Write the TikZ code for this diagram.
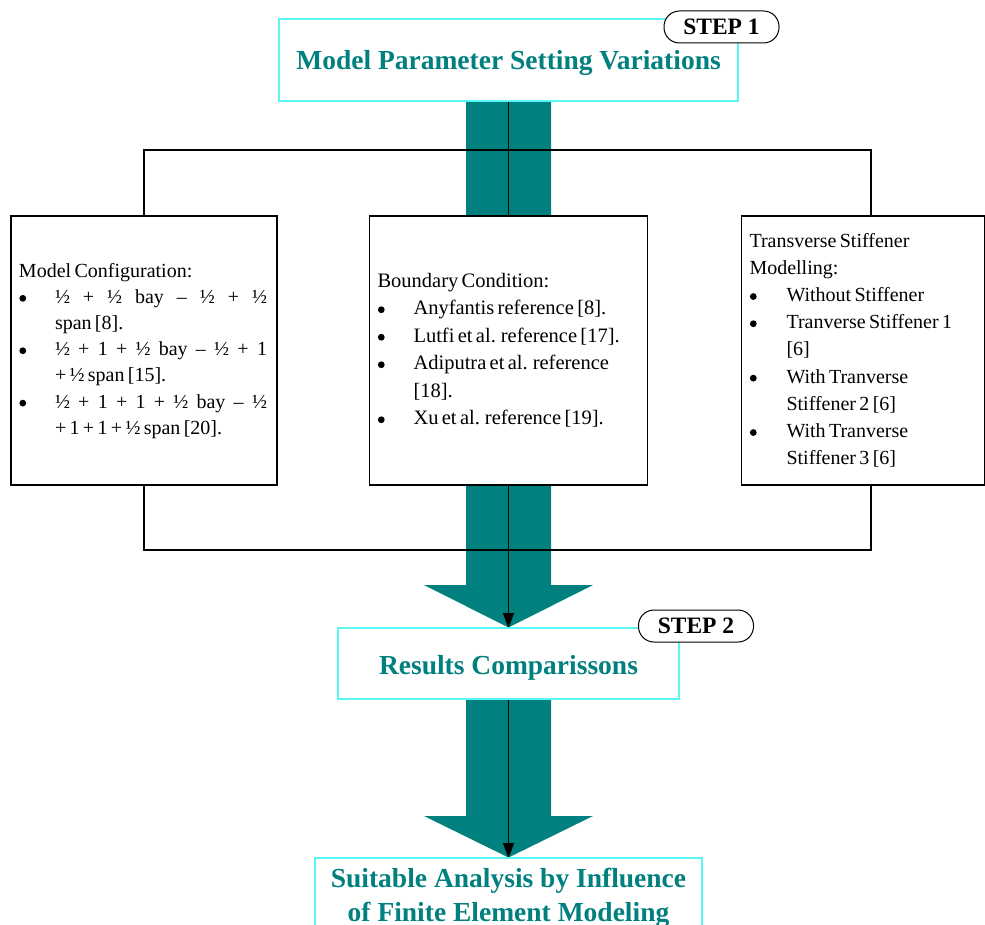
\documentclass[tikz,border=0pt]{standalone}
\usepackage{fontspec}
\setmainfont{Liberation Serif}
\usetikzlibrary{arrows.meta}
\definecolor{mteal}{RGB}{0,128,126}
\definecolor{mcyan}{RGB}{90,245,245}
\pgfdeclarelayer{background}
\pgfsetlayers{background,main}
\newcommand\bul{\tikz[x=1pt,y=1pt,baseline=-5pt]{\path (0,0); \fill[black] (3.8,0) circle (3.4);}}
\newcommand\jline[1]{\hbox to 212pt{#1}}
\tikzset{
  titlebox/.style={draw=mcyan, line width=1.4pt, fill=white, outer sep=0pt,
    text=mteal, font=\fontsize{27.5}{34}\selectfont\bfseries, align=center},
  listbox/.style={draw=black, line width=1.1pt, fill=white, outer sep=0pt,
    inner xsep=8pt, inner ysep=0pt, align=left, minimum height=269pt},
  steppill/.style={draw=black, line width=1pt, fill=white, rounded corners=15.5pt,
    minimum width=115pt, minimum height=32pt, inner sep=0pt,
    font=\fontsize{23.5}{26}\selectfont\bfseries},
  bigarrow/.style={fill=mteal, draw=none},
  thinarrow/.style={draw=black, line width=1.4pt, -{Triangle[length=15pt,width=11pt]}},
  bracket/.style={draw=black, line width=1.3pt}
}
\begin{document}
\begin{tikzpicture}[x=1pt,y=-1pt]
\useasboundingbox (0,0) rectangle (985,925);
\clip (0,0) rectangle (985,925);

% title boxes
\node[titlebox, minimum width=459pt, minimum height=82pt, text height=25pt, text depth=5.5pt] (top) at (508.5,60)
  {Model Parameter Setting Variations};
\node[titlebox, minimum width=341pt, minimum height=71pt, text height=26pt, text depth=4.8pt] (res) at (508.5,663.5)
  {Results Comparissons};
\node[titlebox, anchor=north, minimum width=387pt, inner ysep=10pt] (fin) at (508.5,858)
  {Suitable Analysis by Influence\\of Finite Element Modeling};

% list boxes
\node[listbox, minimum width=266pt, text width=250pt] (lbox) at (144,350.5)
{\fontsize{20}{26.2}\selectfont
\begin{tabular}{@{}p{36pt}@{}l@{}}
\multicolumn{2}{@{}l@{}}{Model Configuration:}\\
\bul & \jline{½\hfill+\hfill½\hfill bay\hfill–\hfill½\hfill+\hfill½}\\
 & span [8].\\
\bul & \jline{½\hfill+\hfill1\hfill+\hfill½\hfill bay\hfill–\hfill½\hfill+\hfill1}\\
 & + ½ span [15].\\
\bul & \jline{½\hfill+\hfill1\hfill+\hfill1\hfill+\hfill½\hfill bay\hfill–\hfill½}\\
 & + 1 + 1 + ½ span [20].
\end{tabular}};

\node[listbox, minimum width=278pt, text width=262pt] (mid) at (508.5,350.5)
{\fontsize{20.5}{27.5}\selectfont
\begin{tabular}{@{}p{36pt}@{}l@{}}
\multicolumn{2}{@{}l@{}}{Boundary Condition:}\\
\bul & Anyfantis reference [8].\\
\bul & Lutfi et al. reference [17].\\
\bul & Adiputra et al. reference\\
 & [18].\\
\bul & Xu et al. reference [19].
\end{tabular}};

\node[listbox, minimum width=243pt, text width=227pt] (rbox) at (863,350.5)
{\fontsize{20}{27.2}\selectfont
\begin{tabular}{@{}p{37pt}@{}l@{}}
\multicolumn{2}{@{}l@{}}{Transverse Stiffener}\\
\multicolumn{2}{@{}l@{}}{Modelling:}\\
\bul & Without Stiffener\\
\bul & Tranverse Stiffener 1\\
 & [6]\\
\bul & With Tranverse\\
 & Stiffener 2 [6]\\
\bul & With Tranverse\\
 & Stiffener 3 [6]
\end{tabular}};

% step labels
\node[steppill] (s1) at (721.5,27) {STEP 1};
\node[steppill] (s2) at (696,626) {STEP 2};

% connectors and big arrows behind
\coordinate (br) at (871,150);
\coordinate (bb) at (871,550);
\begin{pgfonlayer}{background}
  \path[bigarrow] (466,101) -- (466,585) -- (424,585) -- (508.5,627.5)
    -- (593,585) -- (551,585) -- (551,101) -- cycle;
  \path[bigarrow] (466,699) -- (466,816) -- (424,816) -- (508.5,857.5)
    -- (593,816) -- (551,816) -- (551,699) -- cycle;
  \draw[thinarrow] (top.south) -- (res.north);
  \draw[thinarrow] (res.south) -- (fin.north);
  \draw[bracket, line width=1.7pt] (lbox.north) |- (br) -- (rbox.north -| br);
  \draw[bracket] (lbox.south) |- (bb) -- (rbox.south -| bb);
\end{pgfonlayer}
\end{tikzpicture}
\end{document}
